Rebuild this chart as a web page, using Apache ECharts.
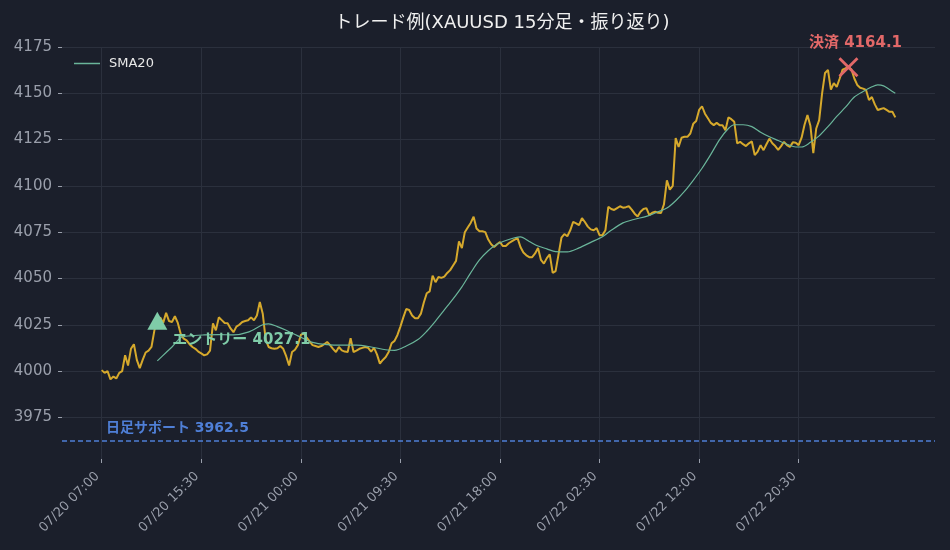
<!DOCTYPE html>
<html lang="ja">
<head>
<meta charset="UTF-8">
<title>トレード例</title>
<script src="https://cdn.jsdelivr.net/npm/echarts@6/dist/echarts.min.js"></script>
<style>html,body{margin:0;background:#1b1f2b;}</style>
</head>
<body>
<div id="main" style="width:950px;height:550px;"></div>
<script>
// 15分足の終値 (index 0 = 07/20 07:00)
var closePrices = [
  4000.5, 3999, 4000, 3995.5, 3997, 3996, 3999, 4000, 4008.5, 4003,
  4012, 4014.5, 4006, 4001.6, 4006, 4010, 4011, 4013, 4022, 4027.1,
  4029, 4026, 4031.4, 4027, 4026.5, 4029.6, 4026, 4020, 4017.5, 4016.6,
  4014.5, 4013, 4012, 4010.5, 4009.5, 4008.5, 4009, 4011, 4025.8, 4022,
  4029, 4027.5, 4026, 4025.8, 4023, 4021, 4024, 4025, 4026.5, 4027,
  4027.4, 4029, 4027.4, 4030, 4037.3, 4031, 4017, 4013, 4012.3, 4012,
  4012.3, 4013.5, 4012, 4008, 4003, 4010.3, 4011.5, 4014, 4019.5, 4020.4,
  4018, 4016, 4014, 4013.5, 4013, 4013.5, 4014.5, 4015.7, 4014, 4012,
  4010.3, 4013, 4011.2, 4010.5, 4010.3, 4017.7, 4010.3, 4011, 4012, 4012.5,
  4013, 4012.5, 4010.5, 4012.5, 4009, 4004, 4006, 4007.6, 4010.3, 4015,
  4016.3, 4019.5, 4024, 4029, 4033.5, 4033, 4030, 4028.5, 4028.5, 4031,
  4037, 4042, 4043, 4051.5, 4048, 4050.8, 4050.3, 4051, 4053, 4054.5,
  4057, 4059.5, 4070, 4066.4, 4075, 4077.5, 4080, 4083.3, 4077, 4075.5,
  4075.5, 4075, 4071, 4068.5, 4067, 4068.5, 4069.7, 4067.5, 4067.5, 4069,
  4070, 4071, 4071.8, 4067, 4064, 4062.5, 4061.5, 4061.5, 4063.5, 4066.4,
  4060, 4058, 4061, 4063, 4053, 4054, 4063, 4072, 4074, 4072.8,
  4076, 4080.6, 4079.8, 4078.8, 4082.6, 4080.5, 4078, 4076.5, 4076, 4077.2,
  4073.4, 4073.4, 4076, 4088.7, 4087.5, 4087, 4088, 4089, 4088.2, 4088.5,
  4089, 4087.2, 4085, 4083.5, 4086, 4087.5, 4088, 4084.2, 4085.5, 4086,
  4085.5, 4085.4, 4090, 4103, 4098, 4100, 4125.8, 4121, 4126, 4126.5,
  4126.5, 4128.3, 4133.5, 4135, 4141, 4143, 4139, 4136.5, 4134, 4132.8,
  4134, 4132.8, 4132.8, 4130, 4137, 4136, 4134.6, 4123, 4123.8, 4122.5,
  4121.5, 4123, 4124, 4116.6, 4118.5, 4122, 4119.3, 4122.5, 4125.5, 4123,
  4121.5, 4119.5, 4121.5, 4123.8, 4122, 4121, 4123.5, 4123.3, 4122, 4126,
  4133, 4138.2, 4132.5, 4117.7, 4131, 4135.5, 4150, 4161, 4162.6, 4152,
  4155.5, 4153.5, 4158, 4162.8, 4163.5, 4164.1, 4163, 4158, 4154.5, 4153,
  4152.5, 4151.8, 4146.4, 4148, 4144, 4141, 4141.5, 4142, 4141, 4140,
  4140, 4137
];

// SMA20 (index, value)
var sma20 = [
  [19, 4005.5], [22, 4010], [24, 4013], [27, 4018], [30, 4019], [35, 4019.5],
  [40, 4019.7], [45, 4019.5], [50, 4021], [55, 4025], [57, 4025.5], [60, 4024],
  [63, 4022], [67, 4019], [72, 4015.5], [77, 4014.3], [82, 4014], [87, 4014],
  [92, 4013], [97, 4011.5], [100, 4011.2], [104, 4013.5], [108, 4017], [111, 4021.5],
  [114, 4027], [117, 4033], [120, 4039], [123, 4045.5], [126, 4053], [129, 4060],
  [132, 4065], [135, 4068.5], [138, 4070.5], [141, 4072], [143, 4072.5], [146, 4070],
  [149, 4067.5], [152, 4066], [155, 4064.5], [159, 4064.4], [163, 4066.5], [167, 4069.5],
  [171, 4072.5], [174, 4076], [178, 4080], [182, 4082], [186, 4083.5], [190, 4086],
  [193, 4088], [196, 4092], [199, 4097], [202, 4103], [205, 4109.5], [208, 4117],
  [211, 4125], [214, 4131], [216, 4133], [219, 4133], [222, 4132], [225, 4129],
  [228, 4126.5], [231, 4124.5], [234, 4122.5], [237, 4121], [239, 4121], [242, 4123.5],
  [245, 4127], [248, 4132], [251, 4137.5], [254, 4142.5], [257, 4148], [260, 4151],
  [263, 4153.5], [265, 4154.5], [267, 4154], [269, 4152], [271, 4150]
];

var tickIdx = [0, 34, 68, 102, 136, 170, 204, 238];
var tickLabels = ['07/20 07:00', '07/20 15:30', '07/21 00:00', '07/21 09:30',
                  '07/21 18:00', '07/22 02:30', '07/22 12:00', '07/22 20:30'];
var yTicks = [3975, 4000, 4025, 4050, 4075, 4100, 4125, 4150, 4175];

var entry = [19, 4027.1];
var exitPt = [255, 4164.1];
var support = 3962.5;

var font = 'DejaVu Sans, Noto Sans CJK JP, sans-serif';
var gridColor = '#2b303d';
var tickColor = '#9a9fab';

var myChart = echarts.init(document.getElementById('main'));

var n = closePrices.length;
var pad = (n - 1) * 0.05;

var option = {
  backgroundColor: '#1b1f2b',
  animation: false,
  textStyle: { fontFamily: font },
  title: {
    text: 'トレード例(XAUUSD 15分足・振り返り)',
    left: 497, top: 9, textAlign: 'center',
    textStyle: { color: '#f0f0f0', fontSize: 18, fontWeight: 'normal', fontFamily: font }
  },
  legend: {
    data: [{ name: 'SMA20', icon: 'rect' }],
    left: 69, top: 52,
    itemWidth: 26, itemHeight: 1.5, itemGap: 6,
    textStyle: { color: '#e8e8e8', fontSize: 13, fontFamily: font, padding: [0, 0, 0, 4] }
  },
  grid: { left: 62, right: 15, top: 47, bottom: 91, containLabel: false },
  xAxis: {
    type: 'value',
    min: -pad, max: n - 1 + pad,
    axisLine: { show: false, onZero: false },
    axisTick: { show: true, length: 4, customValues: tickIdx, lineStyle: { color: tickColor } },
    axisLabel: {
      customValues: tickIdx, rotate: 45, color: tickColor, fontSize: 13, margin: 11,
      padding: [0, 6, 0, 0],
      fontFamily: font,
      formatter: function (v) {
        var k = tickIdx.indexOf(Math.round(v));
        return k >= 0 ? tickLabels[k] : '';
      }
    },
    splitLine: { show: true, lineStyle: { color: gridColor, width: 1 } }
  },
  yAxis: {
    type: 'value',
    min: 3952.5, max: 4175,
    axisLine: { show: false, onZero: false },
    axisTick: { show: true, length: 4, customValues: yTicks, lineStyle: { color: tickColor } },
    axisLabel: {
      customValues: yTicks, color: tickColor, fontSize: 15, margin: 10, fontFamily: font,
      formatter: function (v) { return String(v); }
    },
    splitLine: { show: true, lineStyle: { color: gridColor, width: 1 } }
  },
  series: [
    {
      name: 'XAUUSD',
      type: 'line',
      data: closePrices.map(function (v, i) { return [i, v]; }),
      symbol: 'none',
      lineStyle: { color: '#d6a92c', width: 2 },
      z: 3,
      markLine: {
        silent: true,
        symbol: ['none', 'none'],
        data: [{ yAxis: support }],
        lineStyle: { color: '#4f7fd6', type: [5, 3], width: 1.5 },
        label: {
          show: true,
          position: 'insideStartTop',
          distance: [44, 5],
          formatter: '日足サポート ' + support,
          color: '#4f7fd6', fontSize: 14, fontWeight: 'bold', fontFamily: font
        }
      }
    },
    {
      name: 'SMA20',
      type: 'line',
      data: sma20,
      symbol: 'none',
      smooth: 0.3,
      lineStyle: { color: '#6ab59a', width: 1.2 },
      itemStyle: { color: '#6ab59a' },
      z: 4
    },
    {
      name: 'entry',
      type: 'scatter',
      data: [entry],
      symbol: 'triangle',
      symbolSize: [20, 18],
      itemStyle: { color: '#7fcca8', opacity: 1 },
      z: 5,
      label: {
        show: true, position: 'right', distance: 5, offset: [0, 19],
        formatter: 'エントリー ' + entry[1],
        color: '#7fcca8', fontSize: 15, fontWeight: 'bold', fontFamily: font
      }
    },
    {
      name: 'exit',
      type: 'scatter',
      data: [exitPt],
      symbol: 'path://M2,0 L10,8 L18,0 L20,2 L12,10 L20,18 L18,20 L10,12 L2,20 L0,18 L8,10 L0,2 Z',
      symbolSize: 20,
      itemStyle: { color: '#e26868', opacity: 1 },
      z: 5,
      label: {
        show: true, position: 'top', distance: 7, offset: [7, 0],
        formatter: '決済 ' + exitPt[1],
        color: '#e26868', fontSize: 15, fontWeight: 'bold', fontFamily: font
      }
    }
  ]
};

myChart.setOption(option);
</script>
</body>
</html>
